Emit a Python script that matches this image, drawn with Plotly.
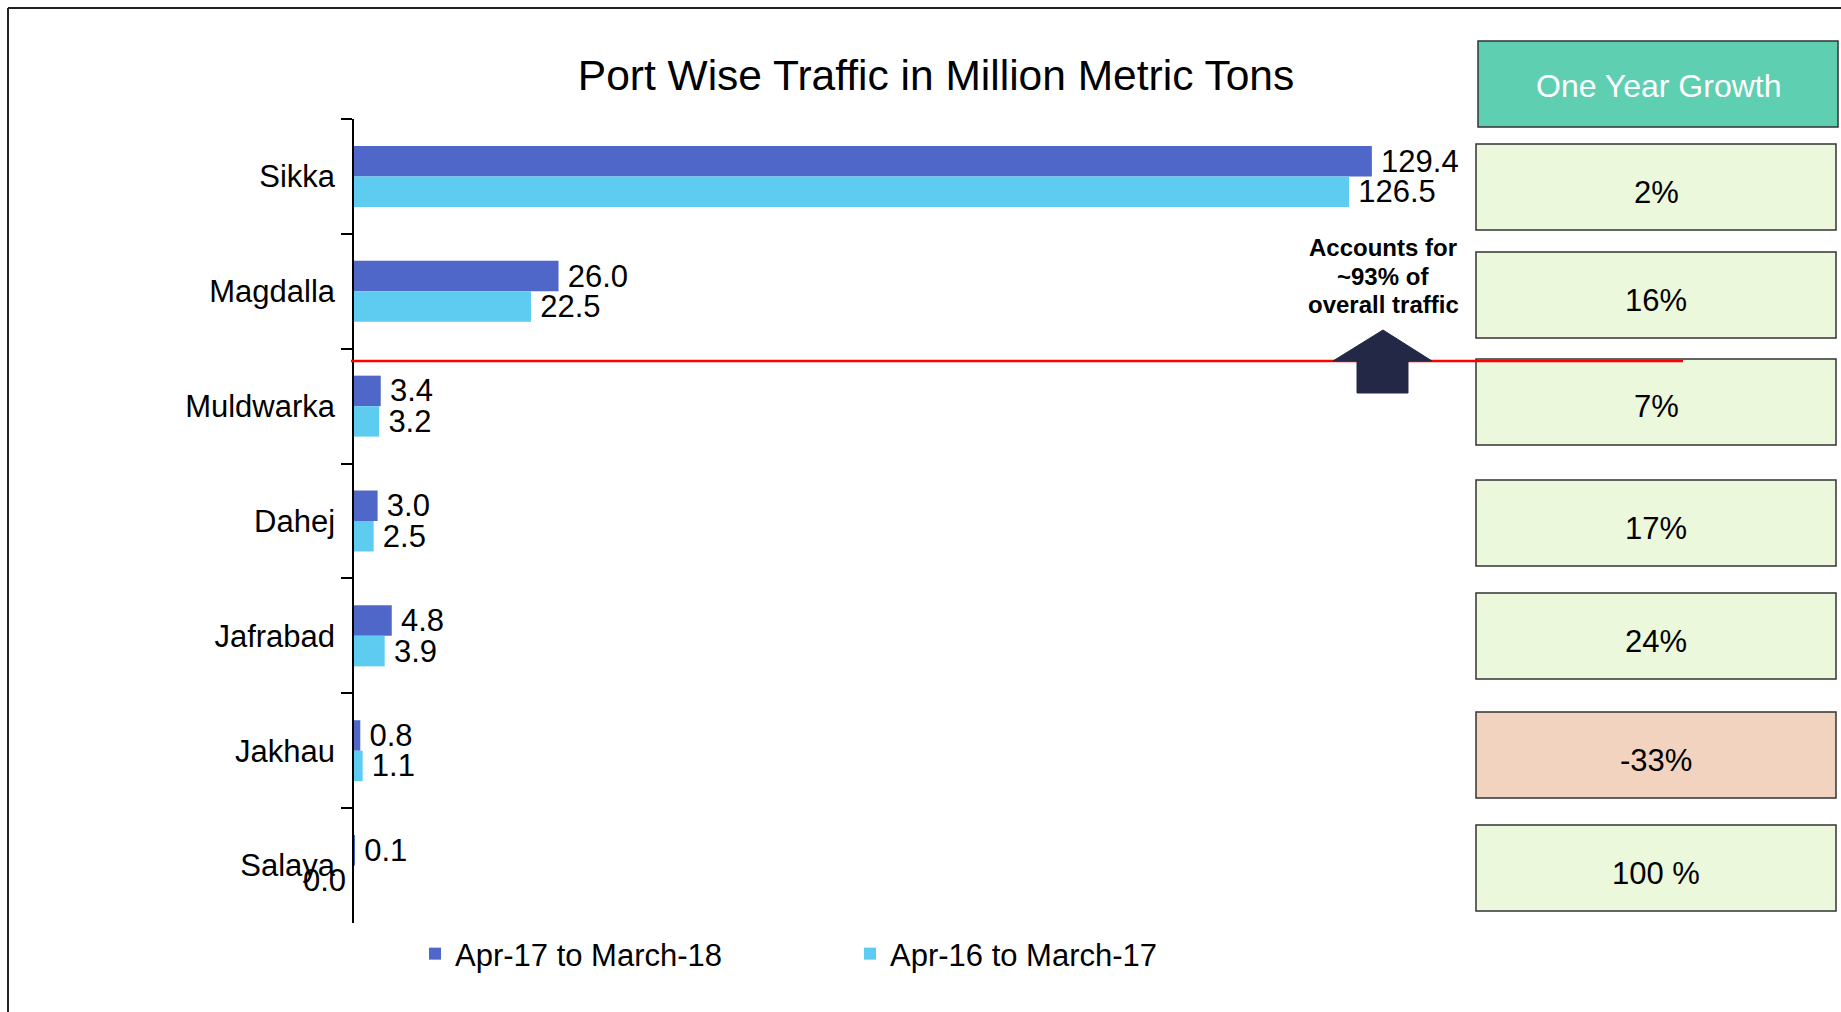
import plotly.graph_objects as go

# ---------------- data ----------------
ports = ["Sikka", "Magdalla", "Muldwarka", "Dahej", "Jafrabad", "Jakhau", "Salaya"]
fy18 = [129.4, 26.0, 3.4, 3.0, 4.8, 0.8, 0.1]   # Apr-17 to March-18
fy17 = [126.5, 22.5, 3.2, 2.5, 3.9, 1.1, 0.0]   # Apr-16 to March-17
growth = ["2%", "16%", "7%", "17%", "24%", "-33%", "100 %"]
series_names = ["Apr-17 to March-18", "Apr-16 to March-17"]
title_text = "Port Wise Traffic in Million Metric Tons"
growth_header = "One Year Growth"
callout_lines = ["Accounts for", "~93% of", "overall traffic"]

# ---------------- layout constants ----------------
FIG_W, FIG_H = 1841, 1012
L, R, T, B = 354, 1470, 119, 923
PX_PER_UNIT = 7.866
FONT = "Arial, 'Liberation Sans', sans-serif"
C_DARK = "#4F67C8"
C_LIGHT = "#5ECCF1"
C_HEAD = "#5ECFB0"
C_BOX = "#EBF8DC"
C_NEG = "#F2D3BF"
C_ARROW = "#232846"
FS = 31


def px(x):
    return (x - L) / (R - L)


def py(y):
    return 1 - (y - T) / (B - T)


fig = go.Figure()
for vals, name, col in [(fy18, series_names[0], C_DARK), (fy17, series_names[1], C_LIGHT)]:
    fig.add_trace(go.Bar(
        y=ports, x=vals, name=name, orientation="h",
        marker=dict(color=col, line=dict(width=0)),
        text=[("" if v == 0 else "\u2009" + f"{v:.1f}") for v in vals],
        textposition="outside", textangle=0, constraintext="none",
        cliponaxis=False,
        textfont=dict(size=FS, color="black", family=FONT),
        hoverinfo="x+y",
    ))

annotations = []
# labels for zero-length bars (drawn left of the axis as in the original)
for vals, shift in [(fy18, 15.3), (fy17, -15.3)]:
    for p, v in zip(ports, vals):
        if v == 0:
            annotations.append(dict(x=v, y=p, xref="x", yref="y", text=f"{v:.1f}",
                                    showarrow=False, xanchor="right", yanchor="middle",
                                    xshift=-6, yshift=shift,
                                    font=dict(size=FS, color="black", family=FONT)))

shapes = []
# outer frame (top and left edges visible)
shapes.append(dict(type="line", xref="paper", yref="paper", x0=px(8), x1=px(1841),
                   y0=py(8), y1=py(8), line=dict(color="#222222", width=2)))
shapes.append(dict(type="line", xref="paper", yref="paper", x0=px(8), x1=px(8),
                   y0=py(8), y1=py(1012), line=dict(color="#222222", width=2)))

# header box
shapes.append(dict(type="rect", xref="paper", yref="paper", x0=px(1478), x1=px(1838),
                   y0=py(41), y1=py(127), fillcolor=C_HEAD, line=dict(color="#333333", width=1.5)))
annotations.append(dict(x=px(1658), y=py(86), xref="paper", yref="paper", text=growth_header,
                        showarrow=False, xanchor="center", yanchor="middle",
                        font=dict(size=32, color="white", family=FONT)))

box_tops = [144, 252, 359, 480, 593, 712, 825]
box_h = 86
for top, g in zip(box_tops, growth):
    fill = C_NEG if g.strip().startswith("-") else C_BOX
    shapes.append(dict(type="rect", xref="paper", yref="paper", x0=px(1476), x1=px(1836),
                       y0=py(top), y1=py(top + box_h), fillcolor=fill,
                       line=dict(color="#333333", width=1.5)))
    annotations.append(dict(x=px(1656), y=py(top + box_h / 2 + 5), xref="paper", yref="paper",
                            text=g, showarrow=False, xanchor="center", yanchor="middle",
                            font=dict(size=FS, color="black", family=FONT)))

# red separator line
shapes.append(dict(type="line", xref="paper", yref="paper", x0=px(351), x1=px(1683),
                   y0=py(361), y1=py(361), line=dict(color="#FF0000", width=2.5)))

# up arrow
pts = [(1333, 361), (1383, 330), (1432, 361), (1408, 361), (1408, 393), (1357, 393), (1357, 361)]
path = "M " + " L ".join(f"{px(x):.5f},{py(y):.5f}" for x, y in pts) + " Z"
shapes.append(dict(type="path", xref="paper", yref="paper", path=path,
                   fillcolor=C_ARROW, line=dict(color=C_ARROW, width=1)))

for i, line in enumerate(callout_lines):
    annotations.append(dict(x=px(1383), y=py(248 + 28 * i), xref="paper", yref="paper",
                            text="<b>" + line + "</b>",
                            showarrow=False, xanchor="center", yanchor="middle", align="center",
                            font=dict(size=24, color="black", family=FONT)))

fig.update_layout(
    width=FIG_W, height=FIG_H,
    margin=dict(l=L, r=FIG_W - R, t=T, b=FIG_H - B, pad=0),
    paper_bgcolor="white", plot_bgcolor="white",
    font=dict(family=FONT, color="black"),
    title=dict(text=title_text, x=936 / FIG_W, y=1 - 75 / FIG_H, xanchor="center",
               yanchor="middle", font=dict(size=42.5, color="black", family=FONT)),
    barmode="group", bargap=0.469, bargroupgap=0,
    xaxis=dict(visible=False, range=[0, (R - L) / PX_PER_UNIT], fixedrange=True),
    yaxis=dict(categoryorder="array", categoryarray=ports, autorange="reversed",
               showline=True, linecolor="black", linewidth=1.5,
               ticks="outside", ticklen=11, tickcolor="black", tickwidth=1.5,
               tickson="boundaries", showgrid=False, zeroline=False, ticklabelstandoff=11,
               tickfont=dict(size=FS, color="black", family=FONT), fixedrange=True),
    legend=dict(orientation="h", x=px(415), xanchor="left", y=py(954), yanchor="middle",
                font=dict(size=31, color="black", family=FONT),
                entrywidth=390, entrywidthmode="pixels", bgcolor="rgba(0,0,0,0)"),
    shapes=shapes, annotations=annotations,
    showlegend=True,
)

fig.write_html("out.html", config={"displayModeBar": False},
               post_script="document.body.style.margin='0px';")
